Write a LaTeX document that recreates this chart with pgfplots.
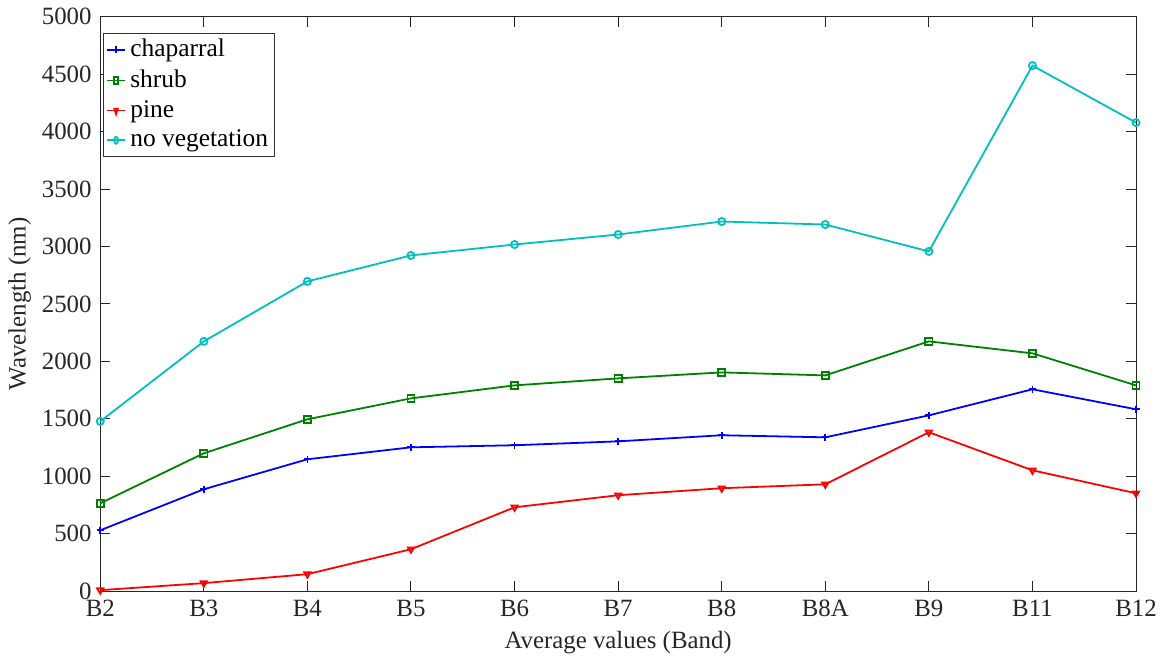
\documentclass[border=0pt]{standalone}
\usepackage{pgfplots}
\pgfplotsset{compat=1.18}
\usepackage{fontspec}
\setmainfont{Liberation Serif}

\definecolor{mblue}{rgb}{0,0,1}
\definecolor{mgreen}{rgb}{0,0.5,0}
\definecolor{mred}{rgb}{1,0,0}
\definecolor{mcyan}{rgb}{0,0.75,0.75}

\begin{document}
\fontsize{12.5}{14}\selectfont
\begin{tikzpicture}
\begin{axis}[
    scale only axis,
    width=521pt, height=289pt,
    xmin=0, xmax=10,
    ymin=0, ymax=5000,
    xtick={0,...,10},
    xticklabels={\textrm{B2},\textrm{B3},\textrm{B4},\textrm{B5},\textrm{B6},\textrm{B7},\textrm{B8},\textrm{B8A},\textrm{B9},\textrm{B11},\textrm{B12}},
    ytick={0,500,...,5000},
    yticklabel={\textrm{\pgfmathprintnumber{\tick}}},
    tick align=inside,
    major tick length=5pt,
    tick style={color=black!85, line width=0.5pt},
    axis line style={black!85, line width=0.5pt},
    scaled y ticks=false,
    /pgf/number format/assume math mode=true,
    /pgf/number format/1000 sep={},
    tick label style={font=\fontsize{12.5}{14}\selectfont, text=black!85},
    label style={font=\fontsize{12.5}{14}\selectfont, text=black!85},
    xlabel={Average values (Band)},
    ylabel={Wavelength (nm)},
    xlabel style={yshift=1pt},
    ylabel style={yshift=-3pt},
    legend style={font=\fontsize{12.8}{14}\selectfont, draw=black!80, line width=0.5pt,
        inner sep=1pt, row sep=0.6pt, at={(0.003,0.972)}, anchor=north west},
    legend cell align=left,
    legend image post style={xscale=0.55},
    every axis plot/.append style={line width=0.9pt, mark size=1.8pt},
]
\addplot[mblue, mark=+] coordinates {
(0,530)(1,887)(2,1148)(3,1252)(4,1270)(5,1304)(6,1357)(7,1339)(8,1530)(9,1757)(10,1583)};
\addlegendentry{chaparral}
\addplot[mgreen, mark=square] coordinates {
(0,765)(1,1200)(2,1496)(3,1678)(4,1791)(5,1852)(6,1904)(7,1878)(8,2174)(9,2070)(10,1791)};
\addlegendentry{shrub}
\addplot[mred, mark=triangle, mark options={rotate=180}] coordinates {
(0,9)(1,70)(2,148)(3,365)(4,730)(5,835)(6,896)(7,930)(8,1383)(9,1052)(10,852)};
\addlegendentry{pine}
\addplot[mcyan, mark=o] coordinates {
(0,1478)(1,2174)(2,2696)(3,2922)(4,3017)(5,3104)(6,3217)(7,3191)(8,2957)(9,4574)(10,4078)};
\addlegendentry{no vegetation}
\end{axis}
\end{tikzpicture}
\end{document}
